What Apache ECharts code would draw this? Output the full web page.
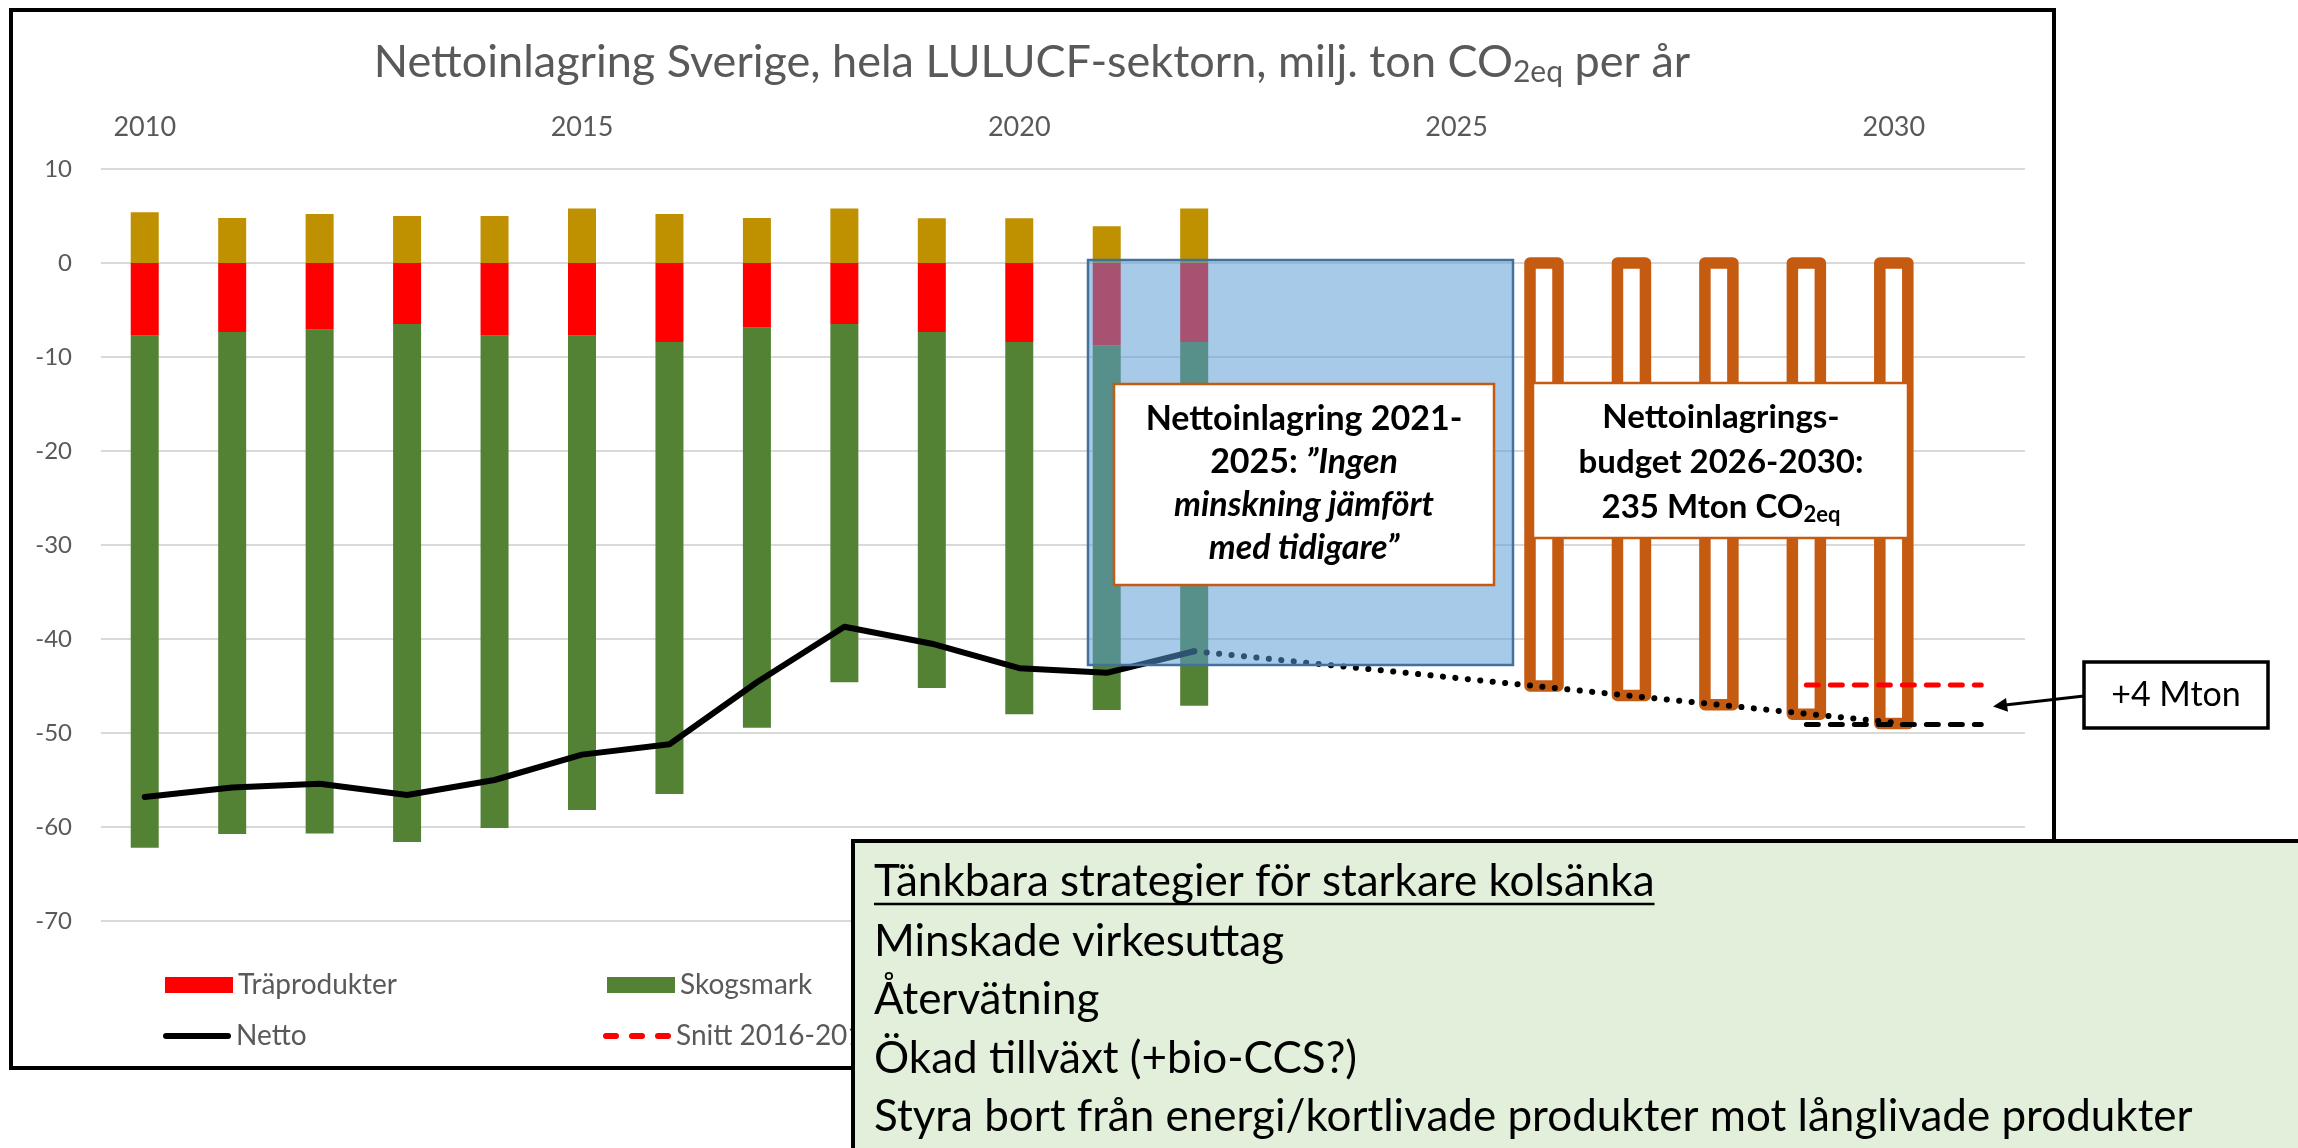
<!DOCTYPE html>
<html>
<head>
<meta charset="utf-8">
<script src="https://cdn.jsdelivr.net/npm/echarts@6/dist/echarts.min.js"></script>
<style>
  html, body { margin: 0; padding: 0; background: #fff; }
  #chart { width: 2298px; height: 1148px; }
</style>
</head>
<body>
<div id="chart"></div>
<script>
const years = ['2010', '2011', '2012', '2013', '2014', '2015', '2016', '2017', '2018', '2019', '2020',
  '2021', '2022', '2023', '2024', '2025', '2026', '2027', '2028', '2029', '2030', '2031'];

// miljoner ton CO2eq
const ovrigt = [5.4, 4.8, 5.2, 5.0, 5.0, 5.8, 5.2, 4.8, 5.8, 4.75, 4.75, 3.9, 5.8,
  null, null, null, null, null, null, null, null, null];
const traprodukter = [-7.75, -7.35, -7.1, -6.5, -7.75, -7.75, -8.4, -6.9, -6.5, -7.35, -8.4, -8.8, -8.4,
  null, null, null, null, null, null, null, null, null];
const skogsmark = [-54.45, -53.4, -53.6, -55.1, -52.35, -50.45, -48.1, -42.55, -38.1, -37.85, -39.6, -38.75, -38.7,
  null, null, null, null, null, null, null, null, null];
const netto = [-56.8, -55.8, -55.4, -56.6, -55.0, -52.3, -51.2, -44.6, -38.7, -40.5, -43.1, -43.6, -41.3,
  null, null, null, null, null, null, null, null, null];
const budget = [null, null, null, null, null, null, null, null, null, null, null, null, null,
  null, null, null, -45, -46, -47, -48, -49, null];
const trend = [null, null, null, null, null, null, null, null, null, null, null, null, -41.3,
  null, null, null, null, null, null, null, -48.9, null];
const snitt = [null, null, null, null, null, null, null, null, null, null, null, null, null,
  null, null, null, null, null, null, -44.9, -44.9, -44.9];
const niva2030 = [null, null, null, null, null, null, null, null, null, null, null, null, null,
  null, null, null, null, null, null, -49.1, -49.1, -49.1];

const yTicks = { min: -70, max: 10, interval: 10 };

const FONT = 'Lato';
const GREY = '#595959';
const ORANGE = '#C55A11';

const strategier = [
  'Minskade virkesuttag',
  'Återvätning',
  'Ökad tillväxt (+bio-CCS?)',
  'Styra bort från energi/kortlivade produkter mot långlivade produkter'
];
const strategiRubrik = 'Tänkbara strategier för starkare kolsänka';
const GREEN_FONT = '44px ' + FONT;

const chart = echarts.init(document.getElementById('chart'));

// bredd på rubriken i gröna rutan, för understrykningen
const ctx = document.createElement('canvas').getContext('2d');
ctx.font = GREEN_FONT;
const rubrikW = ctx.measureText(strategiRubrik).width;

const legendBase = {
  itemWidth: 68,
  itemHeight: 16,
  textStyle: { fontFamily: FONT, fontSize: 28, color: GREY },
  selectedMode: false
};

// budgetstaplar ritas som ihåliga staplar med tjock kant (kanten centrerad på stapelns kant)
const budgetData = budget.map((v, i) => [i, v]).filter(d => d[1] !== null);

const greenTexts = strategier.map((t, i) => ({
  type: 'text', x: 874, y: 942 + i * 58.3, z: 31,
  style: { text: t, font: GREEN_FONT, fill: '#000', align: 'left', verticalAlign: 'middle' }
}));

const option = {
  backgroundColor: '#fff',
  animation: false,
  title: {
    text: '{m|Nettoinlagring Sverige, hela LULUCF-sektorn, milj. ton CO}{s|2eq}{m| per år}',
    left: 1032,
    top: 37,
    padding: 0,
    textAlign: 'center',
    textStyle: {
      rich: {
        m: { fontFamily: FONT, fontSize: 45, fontWeight: 'normal', color: GREY },
        s: { fontFamily: FONT, fontSize: 30, fontWeight: 'normal', color: GREY, padding: [20, 0, 0, 0] }
      }
    }
  },
  legend: [
    Object.assign({ left: 160, top: 966, data: [{ name: 'Träprodukter', icon: 'rect' }] }, legendBase),
    Object.assign({ left: 602, top: 966, data: [{ name: 'Skogsmark', icon: 'rect' }] }, legendBase),
    Object.assign({}, legendBase, { left: 158, top: 1017, itemHeight: 6,
      data: [{ name: 'Netto', icon: 'path://M3,0h62a3,3 0 0 1 0,6h-62a3,3 0 0 1 0,-6z' }] }),
    Object.assign({}, legendBase, { left: 598, top: 1017, itemHeight: 6,
      data: [{ name: 'Snitt 2016-2018',
        icon: 'path://M3,0h10a3,3 0 0 1 0,6h-10a3,3 0 0 1 0,-6z M29,0h10a3,3 0 0 1 0,6h-10a3,3 0 0 1 0,-6z M55,0h10a3,3 0 0 1 0,6h-10a3,3 0 0 1 0,-6z' }] })
  ],
  grid: { left: 101, right: 273, top: 169, bottom: 227, containLabel: false },
  xAxis: {
    type: 'category',
    data: years,
    position: 'top',
    axisLine: { show: false },
    axisTick: { show: false },
    axisLabel: {
      interval: (i) => i % 5 === 0,
      fontFamily: FONT, fontSize: 27, color: GREY, margin: 28
    }
  },
  yAxis: {
    type: 'value',
    min: yTicks.min, max: yTicks.max, interval: yTicks.interval,
    axisLine: { show: false },
    axisTick: { show: false },
    axisLabel: { fontFamily: FONT, fontSize: 24, color: GREY, margin: 29 },
    splitLine: { lineStyle: { color: '#D9D9D9', width: 2 } }
  },
  series: [
    { name: 'Övrigt', type: 'bar', stack: 'tot', barWidth: 28, data: ovrigt,
      itemStyle: { color: '#BF9000' } },
    { name: 'Träprodukter', type: 'bar', stack: 'tot', barWidth: 28, data: traprodukter,
      itemStyle: { color: '#FF0000' } },
    { name: 'Skogsmark', type: 'bar', stack: 'tot', barWidth: 28, data: skogsmark,
      itemStyle: { color: '#548235' } },
    { name: 'Budget', type: 'custom', data: budgetData, z: 2,
      encode: { x: 0, y: 1 },
      renderItem: (params, api) => {
        const x = api.value(0);
        const top = api.coord([x, 0]);
        const bot = api.coord([x, api.value(1)]);
        const w = api.size([1, 0])[0] * 0.32;
        return {
          type: 'rect',
          shape: { x: top[0] - w / 2, y: top[1], width: w, height: bot[1] - top[1] },
          style: { fill: '#fff', stroke: ORANGE, lineWidth: 11.5, lineJoin: 'round' }
        };
      } },
    { name: 'Netto', type: 'line', data: netto, symbol: 'none', z: 3,
      itemStyle: { color: '#000' },
      lineStyle: { color: '#000', width: 6, cap: 'round', join: 'round' } },
    { name: 'Trend', type: 'line', data: trend, connectNulls: true, symbol: 'none', z: 3,
      lineStyle: { color: '#000', width: 6, type: [0.1, 12.4], cap: 'round' } },
    { name: 'Snitt 2016-2018', type: 'line', data: snitt, symbol: 'none', z: 4,
      itemStyle: { color: '#FF0000' },
      lineStyle: { color: '#FF0000', width: 5, type: [12, 12], cap: 'round' } },
    { name: 'Nivå 2030', type: 'line', data: niva2030, symbol: 'none', z: 4,
      lineStyle: { color: '#000', width: 5, type: [12, 12], cap: 'round' } }
  ],
  graphic: {
    elements: [
      // ram runt diagrammet
      { type: 'rect', z: 5, shape: { x: 11, y: 10, width: 2043, height: 1058 },
        style: { fill: 'none', stroke: '#000', lineWidth: 4 } },
      // blå ruta 2021-2025
      { type: 'rect', z: 10, shape: { x: 1088, y: 260, width: 425, height: 405 },
        style: { fill: 'rgba(91,155,213,0.53)', stroke: '#41719C', lineWidth: 2.5 } },
      { type: 'rect', z: 20, shape: { x: 1114, y: 384, width: 380, height: 201 },
        style: { fill: '#fff', stroke: ORANGE, lineWidth: 2.5 } },
      { type: 'text', z: 21, x: 1304, y: 484,
        style: {
          text: '{b|Nettoinlagring 2021-}\n{b|2025: }{i|”Ingen}\n{i|minskning jämfört}\n{i|med tidigare”}',
          align: 'center', verticalAlign: 'middle',
          rich: {
            b: { fontFamily: FONT, fontWeight: 'bold', fontSize: 34, lineHeight: 43, fill: '#000', align: 'center' },
            i: { fontFamily: FONT, fontWeight: 'bold', fontStyle: 'italic', fontSize: 34, lineHeight: 43, fill: '#000', align: 'center' }
          }
        } },
      // budgetruta
      { type: 'rect', z: 20, shape: { x: 1533, y: 383, width: 375, height: 155 },
        style: { fill: '#fff', stroke: ORANGE, lineWidth: 2.5 } },
      { type: 'text', z: 21, x: 1721, y: 462,
        style: {
          text: '{b|Nettoinlagrings-}\n{b|budget 2026-2030:}\n{b|235 Mton CO}{s|2eq}',
          align: 'center', verticalAlign: 'middle',
          rich: {
            b: { fontFamily: FONT, fontWeight: 'bold', fontSize: 33, lineHeight: 45, fill: '#000', align: 'center' },
            s: { fontFamily: FONT, fontWeight: 'bold', fontSize: 22, lineHeight: 45, fill: '#000', align: 'center', padding: [16, 0, 0, 0] }
          }
        } },
      // +4 Mton
      { type: 'line', z: 20, shape: { x1: 2084, y1: 696, x2: 2003, y2: 705.3 },
        style: { stroke: '#000', lineWidth: 3 } },
      { type: 'polygon', z: 20, shape: { points: [[1993, 706.5], [2006, 697.9], [2008, 711.8]] },
        style: { fill: '#000' } },
      { type: 'rect', z: 20, shape: { x: 2084, y: 662, width: 184, height: 66 },
        style: { fill: '#fff', stroke: '#000', lineWidth: 3.5 } },
      { type: 'text', z: 21, x: 2176, y: 695,
        style: { text: '+4 Mton', font: '34px ' + FONT, fill: '#000', align: 'center', verticalAlign: 'middle' } },
      // grön ruta med strategier
      { type: 'rect', z: 30, shape: { x: 853, y: 841, width: 1500, height: 400 },
        style: { fill: '#E2EFDA', stroke: '#000', lineWidth: 4 } },
      { type: 'text', z: 31, x: 874, y: 882,
        style: { text: strategiRubrik, font: GREEN_FONT, fill: '#000', align: 'left', verticalAlign: 'middle' } },
      { type: 'line', z: 31, shape: { x1: 874, y1: 904, x2: 874 + rubrikW, y2: 904 },
        style: { stroke: '#000', lineWidth: 2.5 } }
    ].concat(greenTexts)
  }
};

chart.setOption(option);
</script>
</body>
</html>
